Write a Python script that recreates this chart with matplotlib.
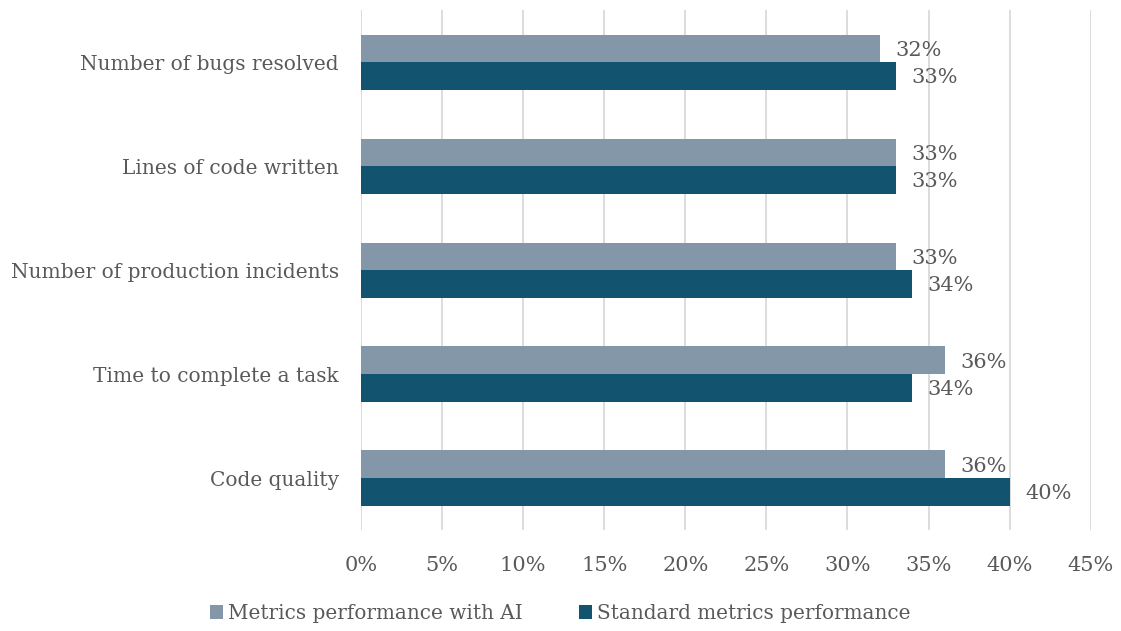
import numpy as np
import matplotlib.pyplot as plt

categories = ["Number of bugs resolved", "Lines of code written",
              "Number of production incidents", "Time to complete a task",
              "Code quality"]
with_ai = [32, 33, 33, 36, 36]
standard = [33, 33, 34, 34, 40]

plt.rcParams['font.family'] = ['DejaVu Serif']
text_col = '#595959'

fig = plt.figure(figsize=(11.21, 6.31), dpi=100)
ax = fig.add_axes([0.322, 0.160, 0.651, 0.824])

y = np.arange(len(categories))
h = 0.265
b1 = ax.barh(y - h / 2, with_ai, height=h, color='#8497A9',
             label='Metrics performance with AI', zorder=3)
b2 = ax.barh(y + h / 2, standard, height=h, color='#12546F',
             label='Standard metrics performance', zorder=3)

for bars, vals in [(b1, with_ai), (b2, standard)]:
    for bar, v in zip(bars, vals):
        ax.annotate('%d%%' % v, (bar.get_width(), bar.get_y() + bar.get_height() / 2),
                    xytext=(11, -1.5), textcoords='offset points', va='center', ha='left',
                    fontsize=15, color=text_col)

ax.set_ylim(4.5, -0.5)
ax.set_xlim(0, 45)
ax.set_xticks(np.arange(0, 46, 5))
ax.set_xticklabels(['%d%%' % t for t in range(0, 46, 5)])
ax.set_yticks(y)
ax.set_yticklabels(categories)
ax.tick_params(axis='both', length=0, colors=text_col)
ax.tick_params(axis='x', pad=19, labelsize=15)
ax.tick_params(axis='y', pad=16, labelsize=14.5)
ax.grid(axis='x', color='#D9D9D9', linewidth=1.3, zorder=0)
for s in ax.spines.values():
    s.set_visible(False)

fig.legend(loc='lower center', bbox_to_anchor=(0.5, -0.016), ncol=2, frameon=False,
           fontsize=14.4, labelcolor=text_col, handlelength=0.65, handleheight=0.65,
           handletextpad=0.25, columnspacing=2.8)

fig.savefig('out.png', dpi=100)
